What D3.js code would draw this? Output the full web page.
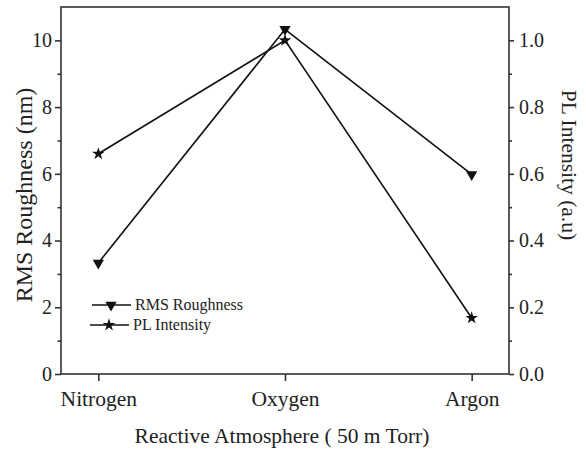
<!DOCTYPE html>
<html>
<head>
<meta charset="utf-8">
<script src="https://cdn.jsdelivr.net/npm/d3@7"></script>
<style>
  body { margin: 0; background: #fff; }
  svg text { font-family: "Liberation Serif", "Times New Roman", serif; fill: #222; }
  .axis path, .axis line { stroke: #333; stroke-width: 1.6; }
</style>
</head>
<body>
<svg id="chart" width="586" height="450"></svg>
<script>
// chart data
var categories = ["Nitrogen", "Oxygen", "Argon"];
var rmsRoughness = [3.33, 10.33, 5.98];     // left axis (nm)
var plIntensity = [0.66, 1.0, 0.168];       // right axis (a.u)
var seriesNames = ["RMS Roughness", "PL Intensity"];
var leftTicks = [0, 2, 4, 6, 8, 10];
var leftMinorTicks = [1, 3, 5, 7, 9];
var rightTicks = [0, 0.2, 0.4, 0.6, 0.8, 1.0];
var rightMinorTicks = [0.1, 0.3, 0.5, 0.7, 0.9];

var svg = d3.select("#chart");
var margin = { left: 61, right: 77, top: 7, bottom: 76 };
var width = 586 - margin.left - margin.right,
    height = 450 - margin.top - margin.bottom;

var g = svg.append("g")
    .attr("transform", "translate(" + margin.left + "," + margin.top + ")");

var x = d3.scalePoint().domain(categories).range([0, width]).padding(0.2);
var yLeft = d3.scaleLinear().domain([0, 11]).range([height, 0]);
var yRight = d3.scaleLinear().domain([0, 1.1]).range([height, 0]);

// frame
g.append("rect")
    .attr("width", width).attr("height", height)
    .attr("fill", "none").attr("stroke", "#333").attr("stroke-width", 1.6);

// left axis, major + minor
g.append("g").attr("class", "axis")
    .call(d3.axisLeft(yLeft).tickValues(leftTicks).tickSize(6).tickPadding(3).tickFormat(d3.format("d")))
    .call(function (a) { a.select(".domain").remove(); })
    .selectAll("text").style("font-size", "20px");
g.append("g").attr("class", "axis")
    .call(d3.axisLeft(yLeft).tickValues(leftMinorTicks).tickSize(3.5).tickFormat(""))
    .select(".domain").remove();

// right axis
g.append("g").attr("class", "axis")
    .attr("transform", "translate(" + width + ",0)")
    .call(d3.axisRight(yRight).tickValues(rightTicks).tickSize(5).tickPadding(5).tickFormat(d3.format(".1f")))
    .call(function (a) { a.select(".domain").remove(); })
    .selectAll("text").style("font-size", "20px");
g.append("g").attr("class", "axis")
    .attr("transform", "translate(" + width + ",0)")
    .call(d3.axisRight(yRight).tickValues(rightMinorTicks).tickSize(3).tickFormat(""))
    .select(".domain").remove();

// bottom axis
g.append("g").attr("class", "axis")
    .attr("transform", "translate(0," + height + ")")
    .call(d3.axisBottom(x).tickSize(7).tickPadding(10))
    .call(function (a) { a.select(".domain").remove(); })
    .selectAll("text").style("font-size", "21.5px");

// axis titles
svg.append("text")
    .attr("x", margin.left + width / 2 - 3).attr("y", 443)
    .attr("text-anchor", "middle").style("font-size", "21.5px")
    .text("Reactive Atmosphere ( 50 m Torr)");
svg.append("text")
    .attr("transform", "translate(32,195) rotate(-90)")
    .attr("text-anchor", "middle").style("font-size", "24px")
    .text("RMS Roughness (nm)");
svg.append("text")
    .attr("transform", "translate(562,165) rotate(90)")
    .attr("text-anchor", "middle").style("font-size", "21.5px")
    .text("PL Intensity (a.u)");

var triangleDown = d3.symbol().type(d3.symbolTriangle).size(55);
var star = d3.symbol().type(d3.symbolStar).size(50);

var line = d3.line();

function drawSeries(values, yScale, symbolGen, rotate) {
    var pts = values.map(function (v, i) { return [x(categories[i]), yScale(v)]; });
    g.append("path")
        .attr("d", line(pts))
        .attr("fill", "none").attr("stroke", "#111").attr("stroke-width", 1.6);
    g.selectAll(null).data(pts).enter().append("path")
        .attr("d", symbolGen())
        .attr("transform", function (p) {
            return "translate(" + p[0] + "," + p[1] + ")" + (rotate ? " rotate(180)" : "");
        })
        .attr("fill", "#111");
}

drawSeries(rmsRoughness, yLeft, triangleDown, true);
drawSeries(plIntensity, yRight, star, false);

// legend
var legendItems = [
    { name: seriesNames[0], symbol: triangleDown, rotate: true, x0: 92, y: 305 },
    { name: seriesNames[1], symbol: star, rotate: false, x0: 90, y: 325 }
];
legendItems.forEach(function (d) {
    svg.append("line")
        .attr("x1", d.x0).attr("x2", d.x0 + 39)
        .attr("y1", d.y).attr("y2", d.y)
        .attr("stroke", "#111").attr("stroke-width", 1.6);
    svg.append("path")
        .attr("d", d.symbol())
        .attr("transform", "translate(" + (d.x0 + 19) + "," + d.y + ")" + (d.rotate ? " rotate(180)" : ""))
        .attr("fill", "#111");
    svg.append("text")
        .attr("x", d.x0 + 43).attr("y", d.y + 5)
        .style("font-size", "16px")
        .text(d.name);
});
</script>
</body>
</html>
